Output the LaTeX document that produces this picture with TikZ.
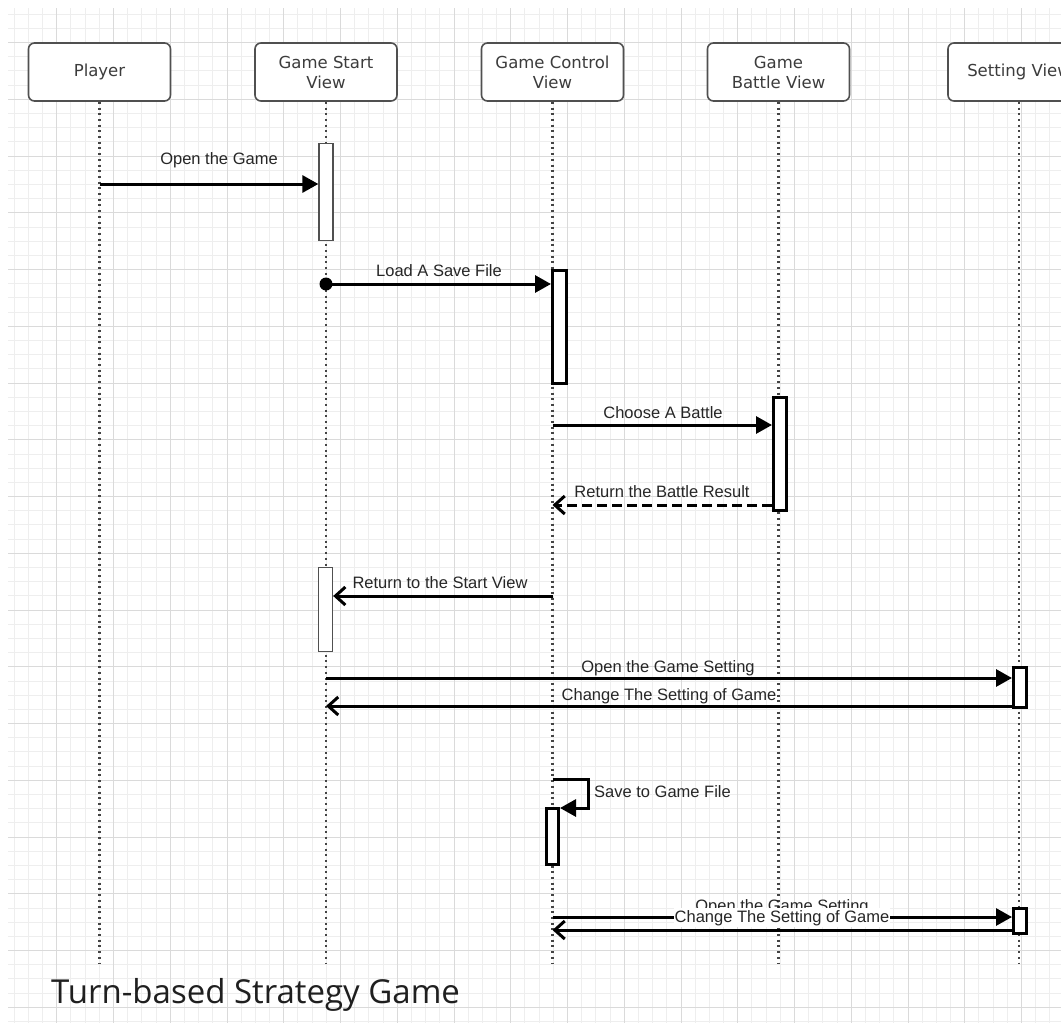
\documentclass[tikz,border=0pt]{standalone}
\usepackage{fontspec}
\setmainfont{Liberation Sans}
\newfontfamily\boxfont{DejaVu Sans}
\newfontfamily\titlefont{Open Sans}
\usetikzlibrary{arrows.meta}

\definecolor{gridmajor}{HTML}{DADADA}
\definecolor{gridminor}{HTML}{EEEEEE}
\definecolor{framegray}{HTML}{505050}
\definecolor{dotgray}{HTML}{444444}
\definecolor{labelgray}{HTML}{262626}
\definecolor{headtext}{HTML}{3C3C3C}

\begin{document}
\begin{tikzpicture}[x=1pt,y=-1pt,
  header/.style={draw=framegray, line width=1.6pt, rounded corners=6pt, fill=white,
    minimum width=142pt, minimum height=58pt, inner sep=0pt, align=center,
    text=headtext, font=\boxfont\fontsize{16.5}{20}\selectfont},
  lifeline/.style={draw=dotgray, line width=2.2pt, dash pattern=on 2pt off 3.7pt},
  actthin/.style={draw=framegray, line width=1.3pt, fill=white, inner sep=0pt},
  actthick/.style={draw=black, line width=3pt, fill=white, inner sep=0pt},
  msg/.style={draw=black, line width=3pt, -{Triangle[length=16pt,width=17pt]}},
  reply/.style={draw=black, line width=3pt, -{Straight Barb[length=10pt,width=18pt]}},
  lbl/.style={text=labelgray, font=\fontsize{16.5}{19}\selectfont, inner sep=0pt, anchor=base},
]
\useasboundingbox (0,0) rectangle (1061,1023);
\clip (0,0) rectangle (1061,1023);
\fill[white] (0,0) rectangle (1061,1023);

% background grid
\begin{scope}
  \clip (8,8) rectangle (1061,1023);
  \foreach \k in {0,...,75} {
    \draw[gridminor, line width=1pt] (\k*14.1875,0) -- (\k*14.1875,1023);
    \draw[gridminor, line width=1pt] (0,\k*14.1875) -- (1061,\k*14.1875);
  }
  \foreach \k in {0,...,18} {
    \draw[gridmajor, line width=1pt] (\k*56.75,0) -- (\k*56.75,1023);
    \draw[gridmajor, line width=1pt] (0,42.5625+\k*56.75-56.75) -- (1061,42.5625+\k*56.75-56.75);
  }
\end{scope}

% participants
\node[header] (p)  at (99.5,72)  {Player};
\node[header] (gs) at (326,72)   {Game Start\\View};
\node[header] (gc) at (552.5,72) {Game Control\\View};
\node[header] (gb) at (778.5,72) {Game\\Battle View};
\node[header] (sv) at (1019,72)  {Setting View};

% lifelines
\foreach \n in {p,gs,gc,gb,sv} {
  \draw[lifeline] (\n.south) -- (\n.south |- 0,963);
}

% activation bars
\node[actthin,  minimum width=14pt, minimum height=97pt]  (a1) at (326,192)    {};
\node[actthick, minimum width=14pt, minimum height=113pt] (a2) at (559.5,327)  {};
\node[actthick, minimum width=13pt, minimum height=113pt] (a3) at (780,454)    {};
\node[actthin,  minimum width=14pt, minimum height=84pt]  (a4) at (325.5,609.5){};
\node[actthick, minimum width=13pt, minimum height=40pt]  (a5) at (1020,687.5) {};
\node[actthick, minimum width=12pt, minimum height=56pt]  (a6) at (552.5,836.5){};
\node[actthick, minimum width=13pt, minimum height=25pt]  (a7) at (1020,921)   {};

% messages
\draw[msg] (p.south |- 0,184) -- (a1.west |- 0,184);
\node[lbl] (l1) at (219,164) {Open the Game};

\fill[black] (gs.south |- 0,284) circle[radius=6.5pt];
\draw[msg] (gs.south |- 0,284) -- (a2.west |- 0,284);
\node[lbl] (l2) at (439,276) {Load A Save File};

\draw[msg] (gc.south |- 0,425) -- (a3.west |- 0,425);
\node[lbl] (l3) at (663,418) {Choose A Battle};

\draw[reply, dash pattern=on 10pt off 5pt] (a3.west |- 0,505) -- (gc.south |- 0,505);
\node[lbl] (l4) at (662,497) {Return the Battle Result};

\draw[reply] (gc.south |- 0,596) -- (a4.east |- 0,596);
\node[lbl] (l5) at (440,588) {Return to the Start View};

\draw[msg] (gs.south |- 0,678) -- (a5.west |- 0,678);
\node[lbl] (l6) at (668,672) {Open the Game Setting};

\draw[reply] (a5.west |- 0,706) -- (gs.south |- 0,706);
\node[lbl] (l7) at (669,700) {Change The Setting of Game};

\draw[msg] (gc.south |- 0,779) -- ++(36,0) |- (a6.east |- 0,808);
\node[lbl, anchor=base west] (l8) at (594,797) {Save to Game File};

% the second reply's label sits on the request line and hides part of it
\node[lbl] (l9) at (782,911) {Open the Game Setting};
\draw[msg] (gc.south |- 0,917) -- (a7.west |- 0,917);
\node[lbl, fill=white, inner xsep=1pt, inner ysep=2pt] (l10) at (782,922) {Change The Setting of Game};
\draw[reply] (a7.west |- 0,930) -- (gc.south |- 0,930);

% caption
\node[anchor=base west, inner sep=0pt, text=black!88,
      font=\titlefont\fontsize{33}{36}\selectfont] (title) at (51,1003) {Turn-based Strategy Game};
\end{tikzpicture}
\end{document}
